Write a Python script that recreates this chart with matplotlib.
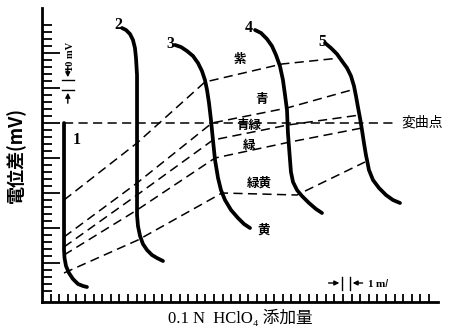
import numpy as np
import matplotlib
matplotlib.use("Agg")
import matplotlib.pyplot as plt

plt.rcParams['font.family'] = ['Noto Sans CJK JP', 'DejaVu Sans']

# titration curves: added volume (ml) vs potential difference (mV)
c1_x = [2.56, 2.56, 2.56, 2.62, 2.79, 3.14, 3.60, 4.19, 4.77, 5.23]
c1_y = [179, 102, 52, 44, 36, 29, 23, 18, 16, 15]
c2_x = [9.30, 9.77, 10.23, 10.58, 10.81, 10.93, 11.05, 11.05, 11.05, 11.16, 11.40, 11.74,
        12.21, 12.79, 13.37, 14.07]
c2_y = [274, 272, 268, 262, 254, 244, 227, 132, 87, 76, 66, 58, 52, 47, 44, 41]
c3_x = [15.47, 16.16, 16.86, 17.56, 18.14, 18.60, 18.95, 19.19, 19.42, 19.65, 19.88, 20.12,
        20.47, 20.81, 21.28, 21.98, 22.79, 23.49, 24.19]
c3_y = [257, 255, 251, 246, 239, 231, 222, 212, 199, 182, 162, 142, 124, 112, 102, 92, 84, 78, 74]
c4_x = [24.77, 25.47, 26.16, 26.74, 27.21, 27.67, 28.02, 28.26, 28.49, 28.60, 28.84, 28.95,
        29.19, 29.65, 30.23, 31.05, 31.86, 32.56]
c4_y = [272, 269, 263, 256, 247, 236, 222, 207, 192, 169, 142, 130, 120, 112, 106, 99, 93, 89]
c5_x = [32.91, 33.60, 34.30, 34.88, 35.47, 35.93, 36.28, 36.51, 36.74, 36.98, 37.21, 37.44,
        37.67, 37.79, 38.02, 38.49, 39.19, 40.00, 40.81, 41.63]
c5_y = [259, 254, 248, 241, 234, 226, 216, 206, 195, 184, 172, 159, 147, 142, 132, 122, 114,
        107, 102, 99]
curves = [(c1_x, c1_y), (c2_x, c2_y), (c3_x, c3_y), (c4_x, c4_y), (c5_x, c5_y)]
curve_labels = ['1', '2', '3', '4', '5']
label_pos = [(3.6, 162), (8.4, 277), (14.5, 258), (23.6, 274), (32.1, 260)]

# colour change boundaries (one point on each curve)
b1_x = [2.56, 11.05, 18.95, 27.91, 34.65]
b1_y = [102, 159, 220, 238, 244]
b2_x = [2.56, 11.05, 19.77, 28.49, 36.40]
b2_y = [65, 119, 179, 194, 213]
b3_x = [2.56, 11.05, 19.88, 28.60, 36.97]
b3_y = [55, 107, 162, 177, 187]
b4_x = [2.56, 11.05, 20.12, 28.84, 37.21]
b4_y = [47, 92, 144, 160, 174]
b5_x = [2.56, 11.16, 20.93, 29.65, 37.56]
b5_y = [29, 62, 109, 107, 140]
bounds = [(b1_x, b1_y), (b2_x, b2_y), (b3_x, b3_y), (b4_x, b4_y), (b5_x, b5_y)]
inflect_x = [2.56, 41.28]
inflect_y = [179, 179]

colour_names = ['紫', '青', '青緑', '緑', '緑黄', '黄']
colour_pos = [(23.0, 242), (25.5, 202), (24.0, 177), (24.1, 157), (25.3, 119), (25.8, 72)]

fig = plt.figure(figsize=(4.55, 3.34), dpi=100)
ax = fig.add_axes([42/455, 32/334, 396/455, 294/334])
ax.set_xlim(0, 46.05)
ax.set_ylim(0, 294)

for (x, y) in bounds:
    ax.plot(x, y, color='black', lw=1.1, dashes=(6, 3.5))
ax.plot(inflect_x, inflect_y, color='black', lw=1.1, dashes=(6, 3.5))

for (x, y) in curves:
    ax.plot(x, y, color='black', lw=2.7, solid_capstyle='round', solid_joinstyle='round')

for lab, (x, y) in zip(curve_labels, label_pos):
    ax.text(x, y, lab, fontsize=11.5, fontweight='bold', family='Liberation Serif',
            ha='left', va='center')

for name, (x, y) in zip(colour_names, colour_pos):
    ax.text(x, y, name, fontsize=9, fontweight='bold', ha='center', va='center')
ax.text(41.8, 179, '変曲点', fontsize=10, ha='left', va='center')

# 10 mV scale mark
ax.text(3.3, 246, '10 mV', fontsize=7.5, fontweight='bold', family='Liberation Serif',
        rotation=90, ha='center', va='center')
ax.annotate('', xy=(3.0, 222), xytext=(3.0, 238),
            arrowprops=dict(arrowstyle='-|>', color='black', lw=1, mutation_scale=7))
ax.annotate('', xy=(3.0, 212), xytext=(3.0, 196),
            arrowprops=dict(arrowstyle='-|>', color='black', lw=1, mutation_scale=7))
ax.plot([2.3, 3.7], [222, 222], color='black', lw=1)
ax.plot([2.3, 3.7], [212, 212], color='black', lw=1)

# 1 ml scale mark
ax.annotate('', xy=(34.9, 19), xytext=(33.0, 19),
            arrowprops=dict(arrowstyle='-|>', color='black', lw=1, mutation_scale=7))
ax.annotate('', xy=(35.8, 19), xytext=(37.6, 19),
            arrowprops=dict(arrowstyle='-|>', color='black', lw=1, mutation_scale=7))
ax.plot([34.9, 34.9], [12, 25], color='black', lw=1)
ax.plot([35.8, 35.8], [12, 25], color='black', lw=1)
ax.text(37.8, 19, '1 m$\\it{l}$', fontsize=8, fontweight='bold', family='Liberation Serif',
        ha='left', va='center')

for s in ['top', 'right']:
    ax.spines[s].set_visible(False)
ax.spines['left'].set_linewidth(2)
ax.spines['bottom'].set_linewidth(2)

ax.set_xticks(np.arange(1, 46))
ax.set_yticks([39, 74, 109, 144, 179, 214, 249])
ax.set_yticks(np.arange(11, 280, 7), minor=True)
ax.tick_params(axis='x', direction='in', length=6, width=1.3, labelbottom=False)
ax.tick_params(axis='y', which='major', direction='in', length=13, width=1.3, labelleft=False)
ax.tick_params(axis='y', which='minor', direction='in', length=7, width=1.3)

ax.set_ylabel('電位差(mV)', fontsize=13, fontweight='bold', labelpad=8)
ax.set_xlabel('0.1 N  HClO₄ 添加量', fontsize=12, labelpad=6,
              family=['Liberation Serif', 'Noto Sans CJK JP', 'DejaVu Serif'])

fig.savefig('out.png', dpi=100)
